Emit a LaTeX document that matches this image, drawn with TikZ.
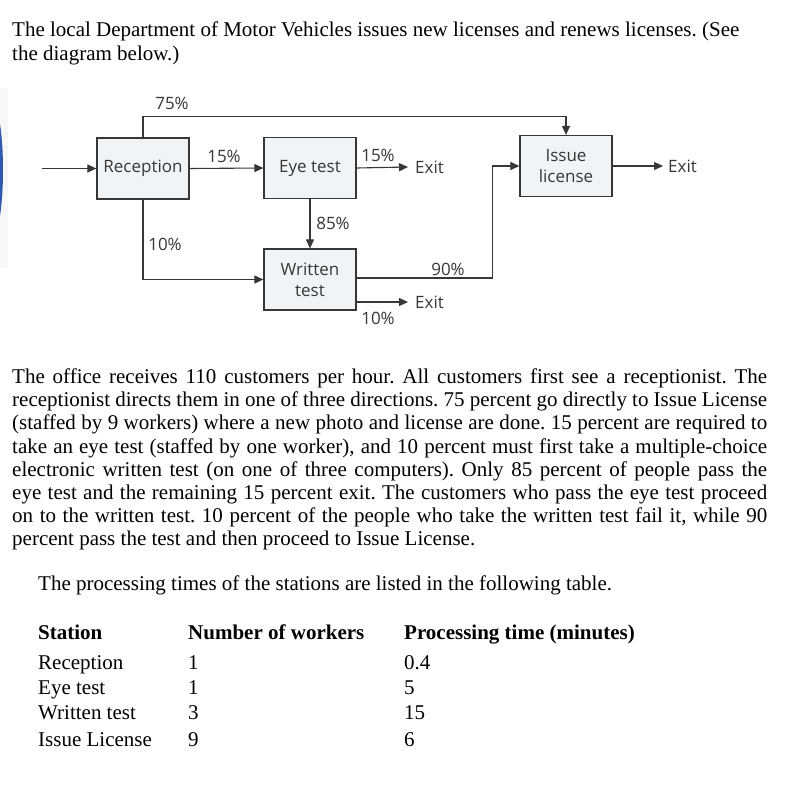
\documentclass[tikz,border=0pt]{standalone}
\usepackage{fontspec}
\setmainfont{Liberation Serif}
\newfontfamily\diagfont{Open Sans}
\usetikzlibrary{arrows.meta}
\definecolor{boxfill}{RGB}{240,244,246}
\definecolor{ink}{RGB}{55,55,55}
\definecolor{scanblue}{RGB}{45,90,175}
\frenchspacing
\begin{document}
\begin{tikzpicture}[x=1pt,y=-1pt,
  stationbox/.style={draw=ink,line width=1.2pt,fill=boxfill,minimum width=92pt,minimum height=61pt,
    inner sep=0pt,align=center,font=\diagfont\fontsize{17}{21}\selectfont,text=ink},
  flowlbl/.style={font=\diagfont\fontsize{17}{20}\selectfont,text=ink,inner sep=0pt},
  exitlbl/.style={font=\diagfont\fontsize{17}{20}\selectfont,text=ink,inner ysep=0pt,anchor=west},
  flow/.style={draw=ink,line width=1.1pt,-{Triangle[length=9pt,width=8pt]}},
  bodytext/.style={anchor=base west,inner sep=0pt,font=\fontsize{21}{23}\selectfont,text=black},
  headtext/.style={anchor=base west,inner sep=0pt,font=\bfseries\fontsize{21}{23}\selectfont,text=black}]
\useasboundingbox (0,0) rectangle (802,784);
\fill[white] (0,0) rectangle (802,784);
% scan artefacts on the left edge
\fill[gray!6] (0,88) rectangle (8,268);
\fill[scanblue] (0,124) .. controls (4,150) and (4,190) .. (0,216) -- cycle;

% title
\node[bodytext] (t1) at (12,37) {The local Department of Motor Vehicles issues new licenses and renews licenses. (See};
\node[bodytext] (t2) at (12,60) {the diagram below.)};

% diagram
\node[stationbox] (rec) at (143,168.5) {Reception};
\node[stationbox] (eye) at (310,168) {Eye test};
\node[stationbox] (wri) at (310,279.5) {Written\\test};
\node[stationbox] (iss) at (566,166) {Issue\\license};
\coordinate (in) at (42,168.5);
\node[exitlbl,inner xsep=7pt] (ex1) at (408,167) {Exit};
\node[exitlbl,inner xsep=7pt] (ex2) at (408,302) {Exit};
\node[exitlbl,inner xsep=5pt] (ex3) at (663,166) {Exit};

\draw[flow] (in) -- (rec.west);
\draw[flow] (rec.north) -- ++(0,-21) -| (iss.north);
\draw[flow] (rec.east) -- (eye.west);
\draw[flow] (eye.east) -- (ex1.west);
\draw[flow] (eye.south) -- (wri.north);
\draw[flow] (rec.south) |- (wri.west);
\draw[flow] ([yshift=1.5pt]wri.east) -- ++(136,0) |- (iss.west);
\draw[flow] ([yshift=-22.5pt]wri.east) -- (ex2.west);
\draw[flow] (iss.east) -- (ex3.west);

\node[flowlbl] (l75) at (172,103) {75\%};
\node[flowlbl] (l15a) at (224,156) {15\%};
\node[flowlbl] (l15b) at (378,155) {15\%};
\node[flowlbl] (l85) at (333,223) {85\%};
\node[flowlbl] (l10a) at (165,244) {10\%};
\node[flowlbl] (l90) at (448,269) {90\%};
\node[flowlbl] (l10b) at (378,318) {10\%};

% paragraph
\node[bodytext] (p1) at (12,383) {\makebox[755pt][s]{The office receives 110 customers per hour. All customers first see a receptionist. The}};
\node[bodytext] (p2) at (12,406) {\makebox[755pt][s]{receptionist directs them in one of three directions. 75 percent go directly to Issue License}};
\node[bodytext] (p3) at (12,429) {\makebox[755pt][s]{(staffed by 9 workers) where a new photo and license are done. 15 percent are required to}};
\node[bodytext] (p4) at (12,453) {\makebox[755pt][s]{take an eye test (staffed by one worker), and 10 percent must first take a multiple-choice}};
\node[bodytext] (p5) at (12,476) {\makebox[755pt][s]{electronic written test (on one of three computers). Only 85 percent of people pass the}};
\node[bodytext] (p6) at (12,499) {\makebox[755pt][s]{eye test and the remaining 15 percent exit. The customers who pass the eye test proceed}};
\node[bodytext] (p7) at (12,522) {\makebox[755pt][s]{on to the written test. 10 percent of the people who take the written test fail it, while 90}};
\node[bodytext] (p8) at (12,545) {percent pass the test and then proceed to Issue License.};
\node[bodytext] (p9) at (38,590) {The processing times of the stations are listed in the following table.};

% table
\node[headtext] (h1) at (38,639) {Station};
\node[headtext] (h2) at (188,639) {Number of workers};
\node[headtext] (h3) at (404,639) {Processing time (minutes)};
\node[bodytext] (r1a) at (38,669) {Reception};
\node[bodytext] (r1b) at (188,669) {1};
\node[bodytext] (r1c) at (404,669) {0.4};
\node[bodytext] (r2a) at (38,694) {Eye test};
\node[bodytext] (r2b) at (188,694) {1};
\node[bodytext] (r2c) at (404,694) {5};
\node[bodytext] (r3a) at (38,719) {Written test};
\node[bodytext] (r3b) at (188,719) {3};
\node[bodytext] (r3c) at (404,719) {15};
\node[bodytext] (r4a) at (38,746) {Issue License};
\node[bodytext] (r4b) at (188,746) {9};
\node[bodytext] (r4c) at (404,746) {6};
\end{tikzpicture}
\end{document}
